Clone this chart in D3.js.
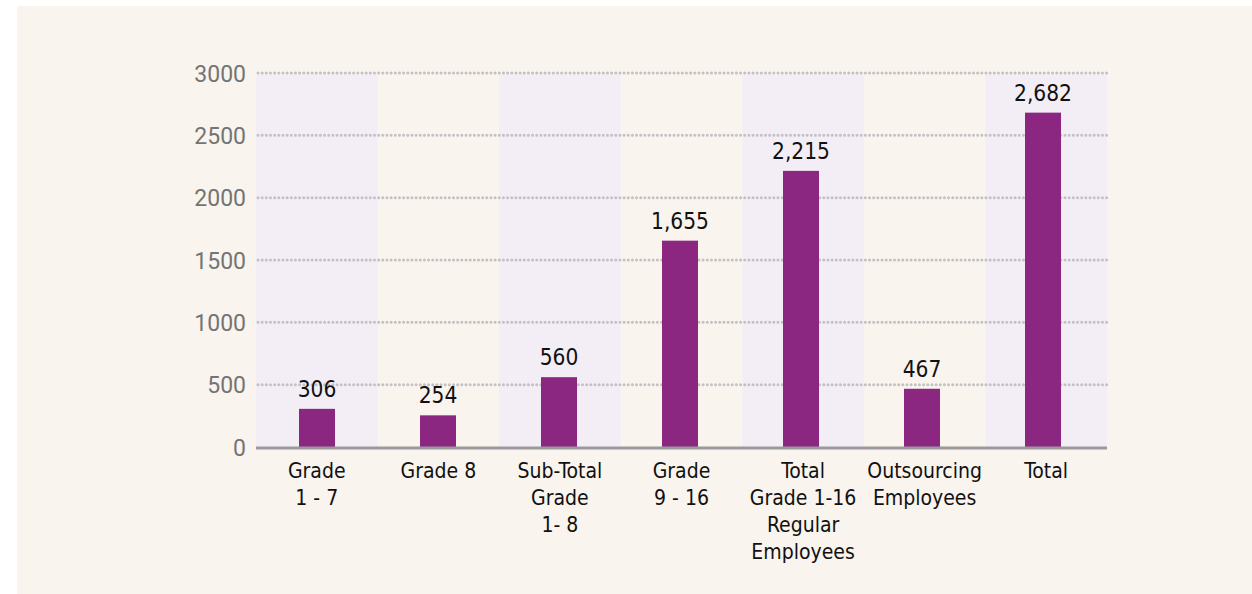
<!DOCTYPE html>
<html lang="en">
<head>
  <meta charset="UTF-8">
  <title>Employees by Grade</title>
  <script src="https://d3js.org/d3.v7.min.js"></script>
  <style>
    body {
      margin: 0;
      background: #ffffff;
      overflow: hidden;
    }
    .tick-label {
      font-family: 'Roboto', sans-serif;
      font-size: 23px;
      fill: #747474;
    }
    .value-label, .cat-label {
      font-family: 'DejaVu Sans Condensed', 'DejaVu Sans', sans-serif;
      fill: #111;
    }
    .value-label { font-size: 22.5px; }
    .cat-label { font-size: 21px; }
  </style>
</head>
<body>
  <svg id="chart" width="1252" height="594"></svg>
  <script>
    // data
    const categories = [
      ["Grade", "1 - 7"],
      ["Grade 8"],
      ["Sub-Total", "Grade", "1- 8"],
      ["Grade", "9 - 16"],
      ["Total", "Grade 1-16", "Regular", "Employees"],
      ["Outsourcing", "Employees"],
      ["Total"]
    ];
    const values = [306, 254, 560, 1655, 2215, 467, 2682];
    const yTicks = [0, 500, 1000, 1500, 2000, 2500, 3000];

    const svg = d3.select("#chart");
    const margin = { left: 256, right: 145, top: 73, bottom: 147 };
    const W = 1252, H = 594;

    // beige panel
    svg.append("rect")
      .attr("x", 17).attr("y", 6)
      .attr("width", W - 17).attr("height", H - 6)
      .attr("fill", "#f9f4ee");

    const x = d3.scaleBand()
      .domain(d3.range(categories.length))
      .range([margin.left, W - margin.right]);

    // bars sit on a slightly tighter grid than the shaded bands
    const xBar = d3.scaleBand()
      .domain(d3.range(categories.length))
      .range([margin.left + 0.5, W - margin.right - 3.5]);

    const y = d3.scaleLinear()
      .domain([0, 3000])
      .range([H - margin.bottom, margin.top]);

    // alternating band shading
    svg.append("g")
      .selectAll("rect")
      .data(d3.range(categories.length).filter(i => i % 2 === 0))
      .join("rect")
      .attr("x", i => x(i))
      .attr("y", y(3000) + 1.5)
      .attr("width", x.bandwidth())
      .attr("height", y(0) - y(3000) - 1.5)
      .attr("fill", "#f3eef5");

    // dotted gridlines
    svg.append("g")
      .selectAll("line")
      .data(yTicks.filter(t => t > 0))
      .join("line")
      .attr("x1", margin.left + 2)
      .attr("x2", W - margin.right)
      .attr("y1", d => y(d))
      .attr("y2", d => y(d))
      .attr("stroke", "#c2c2c4")
      .attr("stroke-width", 3)
      .attr("stroke-linecap", "round")
      .attr("stroke-dasharray", "0.01 4.15");

    // y tick labels
    const yAxis = d3.axisLeft(y).tickValues(yTicks).tickFormat(d3.format("d"))
      .tickSize(0).tickPadding(10);
    const ga = svg.append("g")
      .attr("transform", `translate(${margin.left},0)`)
      .call(yAxis);
    ga.select(".domain").remove();
    ga.selectAll("text")
      .attr("class", "tick-label")
      .attr("dy", "0.35em")
      .attr("font-size", null)
      .attr("font-family", null);

    // bars
    const barW = 36;
    svg.append("g")
      .selectAll("rect")
      .data(values)
      .join("rect")
      .attr("x", (d, i) => xBar(i) + xBar.bandwidth() / 2 - barW / 2)
      .attr("y", d => y(d))
      .attr("width", barW)
      .attr("height", d => y(0) - y(d))
      .attr("fill", "#8b2781");

    // baseline
    svg.append("line")
      .attr("x1", margin.left)
      .attr("x2", W - margin.right)
      .attr("y1", y(0) + 1)
      .attr("y2", y(0) + 1)
      .attr("stroke", "#9a9a9c")
      .attr("stroke-width", 3);

    // value labels
    svg.append("g")
      .selectAll("text")
      .data(values)
      .join("text")
      .attr("class", "value-label")
      .attr("x", (d, i) => xBar(i) + xBar.bandwidth() / 2)
      .attr("y", d => y(d) - 12)
      .attr("text-anchor", "middle")
      .text(d => d3.format(",")(d));

    // category labels
    const cat = svg.append("g")
      .selectAll("text")
      .data(categories)
      .join("text")
      .attr("class", "cat-label")
      .attr("text-anchor", "middle")
      .attr("x", (d, i) => x(i) + x.bandwidth() / 2)
      .attr("y", y(0) + 31);
    cat.selectAll("tspan")
      .data((d, i) => d.map(s => ({ s, i })))
      .join("tspan")
      .attr("x", d => x(d.i) + x.bandwidth() / 2)
      .attr("dy", (d, j) => j === 0 ? 0 : 27)
      .text(d => d.s);
  </script>
</body>
</html>
